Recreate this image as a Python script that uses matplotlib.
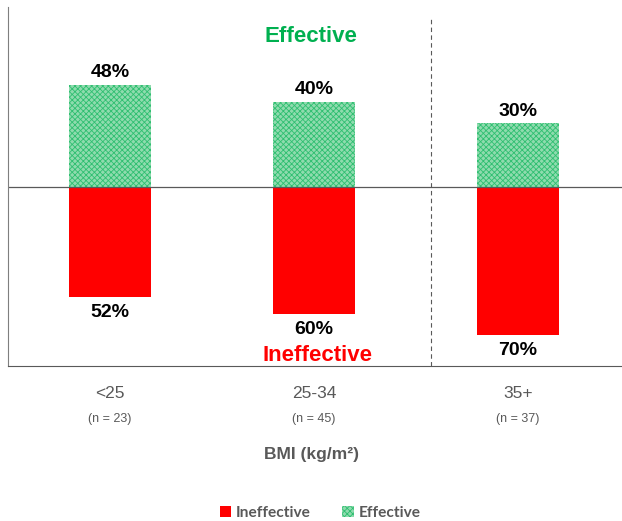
import matplotlib
matplotlib.use("Agg")
import matplotlib.pyplot as plt
import matplotlib.transforms as mtransforms
from matplotlib.patches import Patch

categories = ["<25", "25-34", "35+"]
n_labels = ["(n = 23)", "(n = 45)", "(n = 37)"]
effective = [48, 40, 30]
ineffective = [52, 60, 70]

GREEN = "#2fbf71"
RED = "#ff0000"
GREY = "#595959"

plt.rcParams['font.family'] = ['Liberation Sans', 'DejaVu Sans']
plt.rcParams['hatch.linewidth'] = 0.6

fig = plt.figure(figsize=(6.22, 5.21), dpi=100)
ax = fig.add_axes([8/622, 155/521, 614/622, 359/521])

x = list(range(len(categories)))
w = 0.4
ax.bar(x, effective, width=w, facecolor="#8fdbae", edgecolor=GREEN, hatch="xxxxxx", linewidth=0)
ax.bar(x, [-v for v in ineffective], width=w, color=RED, linewidth=0)

ax.set_xlim(-0.5, 2.51)
ax.set_ylim(-84.5, 84.5)
ax.axhline(0, color="#595959", linewidth=0.9)
ax.axvline(1.575, ymin=0, ymax=0.97, color="#595959", linewidth=0.8, linestyle=(0, (4, 3)))

for xi, e, ie in zip(x, effective, ineffective):
    ax.text(xi, e + 1.5, f"{e}%", ha="center", va="bottom", fontsize=14, fontweight="bold", color="black")
    ax.text(xi, -ie - 3.2, f"{ie}%", ha="center", va="top", fontsize=14, fontweight="bold", color="black")

ax.text(0.985, 70.5, "Effective", ha="center", va="center", fontsize=16, fontweight="bold", color="#00b050")
ax.text(1.015, -79.5, "Ineffective", ha="center", va="center", fontsize=16, fontweight="bold", color=RED)

for s in ["top", "right"]:
    ax.spines[s].set_visible(False)
ax.spines["left"].set_color("#7f7f7f")
ax.spines["bottom"].set_color("#595959")
ax.set_yticks([])
ax.set_xticks([])

trans = mtransforms.blended_transform_factory(ax.transData, fig.transFigure)
for xi, c, n in zip(x, categories, n_labels):
    ax.text(xi, 1 - 393/521, c, transform=trans, ha="center", va="center", fontsize=12.5, color=GREY)
    ax.text(xi, 1 - 419/521, n, transform=trans, ha="center", va="center", fontsize=9, color=GREY)

fig.text(311/622, 1 - 455/521, "BMI (kg/m²)", ha="center", va="center", fontsize=12.5, fontweight="bold", color=GREY)

handles = [Patch(facecolor=RED, linewidth=0, label="Ineffective"),
           Patch(facecolor="#8fdbae", edgecolor=GREEN, hatch="xxxxxx", linewidth=0, label="Effective")]
leg = fig.legend(handles=handles, loc="center", bbox_to_anchor=(320/622, 1 - 513/521), ncol=2,
                 frameon=False, handlelength=0.75, handleheight=0.75, handletextpad=0.3, columnspacing=2.0,
                 prop={'family': 'Lato', 'weight': 'bold', 'size': 11.2})
for t in leg.get_texts():
    t.set_color(GREY)

fig.savefig("out.png", dpi=100)
